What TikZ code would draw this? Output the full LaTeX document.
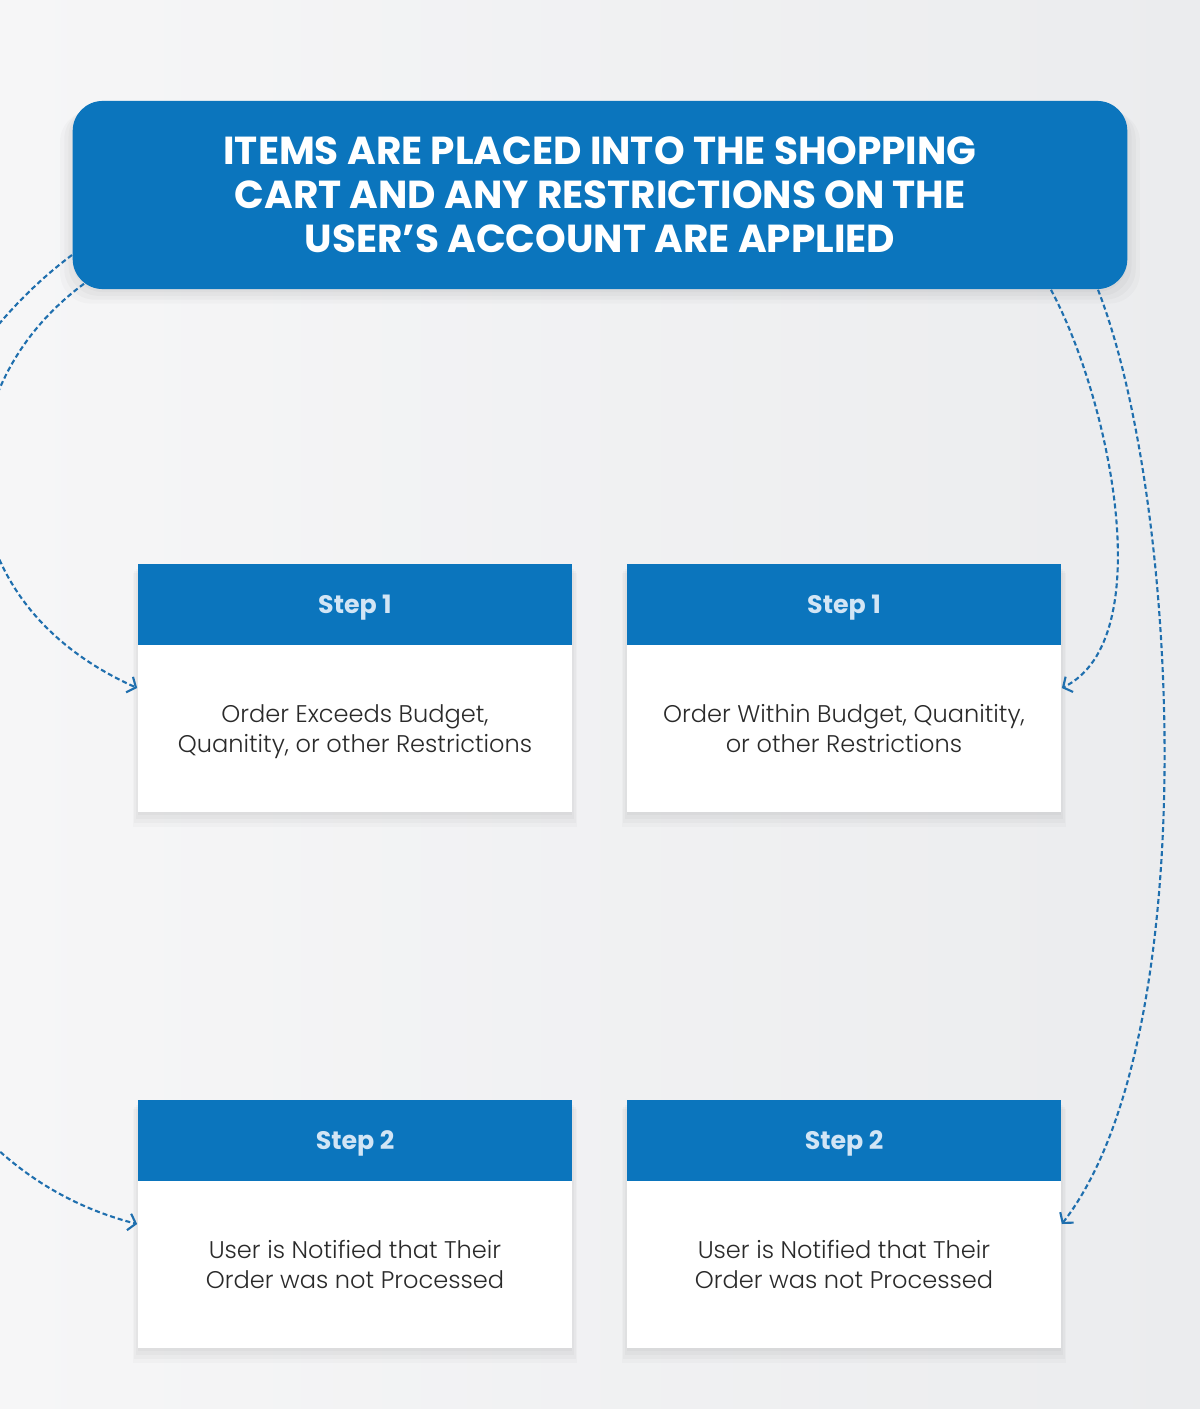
\documentclass[tikz,border=0pt]{standalone}
\usepackage{fontspec}
\setmainfont{Poppins}
\newfontfamily\notefont{Poppins}[UprightFont=* Light]
\usepackage{tikz}
\usetikzlibrary{positioning}
\usetikzlibrary{arrows.meta}
\usetikzlibrary{shadows}

\definecolor{cartblue}{HTML}{0B75BD}
\definecolor{linkblue}{HTML}{1F6FAE}
\definecolor{steptext}{HTML}{D2E5F5}
\definecolor{notegray}{HTML}{2A2A2A}
\definecolor{bgleft}{HTML}{F6F6F7}
\definecolor{bgright}{HTML}{EBECEE}

\tikzset{
  softshadow/.style={
    general shadow={fill=black, opacity=0.025, shadow xshift=0cm, shadow yshift=-0.03cm},
    general shadow={fill=black, opacity=0.025, shadow xshift=0cm, shadow yshift=-0.06cm, shadow scale=1.008},
    general shadow={fill=black, opacity=0.025, shadow xshift=0cm, shadow yshift=-0.09cm, shadow scale=1.016},
    general shadow={fill=black, opacity=0.02, shadow xshift=0cm, shadow yshift=-0.12cm, shadow scale=1.024}},
  cardbox/.style={rectangle, fill=white, minimum width=4.34cm, minimum height=2.48cm, inner sep=0pt, softshadow},
  stepband/.style={rectangle, fill=cartblue, minimum width=4.34cm, minimum height=0.81cm, inner sep=0pt,
    text depth=0pt, text=steptext, font=\bfseries\fontsize{7.2}{9}\selectfont},
  notetext/.style={rectangle, minimum width=4.34cm, minimum height=1.67cm, inner sep=0pt, align=center,
    text=notegray, font=\notefont\fontsize{6.85}{8.5}\selectfont,
    execute at begin node=\strut, execute at end node=\strut},
  flow/.style={draw=linkblue, line width=0.6pt, dash pattern=on 0.05cm off 0.03cm,
    -{Straight Barb[length=0.07cm,width=0.17cm]}}
}

\begin{document}
\begin{tikzpicture}[x=0.01cm, y=-0.01cm]
			\shade [left color=bgleft, right color=bgright] (0, 0) rectangle (1200, 1409);
			\useasboundingbox (0, 0) rectangle (1200, 1409);
			% header
			\node at (600, 195) [rectangle, rounded corners=0.3cm, fill=cartblue, minimum width=10.54cm, minimum height=1.88cm, align=center, text=white, font=\bfseries\fontsize{11.1}{12.5}\selectfont, softshadow] (hdr) {ITEMS ARE PLACED INTO THE SHOPPING\\CART AND ANY RESTRICTIONS ON THE\\USER’S ACCOUNT ARE APPLIED};
			% first row
			\node at (355, 688) [cardbox] (card1l) {};
			\node [stepband, anchor=north] at (card1l.north) (step1l) {Step 1};
			\node [notetext, below=0.03cm of step1l] (note1l) {Order Exceeds Budget,\\Quanitity, or other Restrictions};
			\node at (844, 688) [cardbox] (card1r) {};
			\node [stepband, anchor=north] at (card1r.north) (step1r) {Step 1};
			\node [notetext, below=0.03cm of step1r] (note1r) {Order Within Budget, Quanitity,\\or other Restrictions};
			% second row
			\node at (355, 1224) [cardbox] (card2l) {};
			\node [stepband, anchor=north] at (card2l.north) (step2l) {Step 2};
			\node [notetext, below=0.03cm of step2l] (note2l) {User is Notified that Their\\Order was not Processed};
			\node at (844, 1224) [cardbox] (card2r) {};
			\node [stepband, anchor=north] at (card2r.north) (step2r) {Step 2};
			\node [notetext, below=0.03cm of step2r] (note2r) {User is Notified that Their\\Order was not Processed};
			% connectors
			\draw [flow] ([xshift=0.12cm, yshift=0.06cm]hdr.south west) .. controls (-60, 390) and (-60, 600) .. (card1l.west);
			\draw [flow] ([yshift=-0.6cm]hdr.west) .. controls (-230, 480) and (-230, 1130) .. (card2l.west);
			\draw [flow] ([xshift=-0.77cm]hdr.south east) .. controls (1110, 400) and (1160, 640) .. (card1r.east);
			\draw [flow] ([xshift=-0.3cm]hdr.south east) .. controls (1180, 500) and (1205, 1040) .. (card2r.east);
		\end{tikzpicture}
\end{document}
